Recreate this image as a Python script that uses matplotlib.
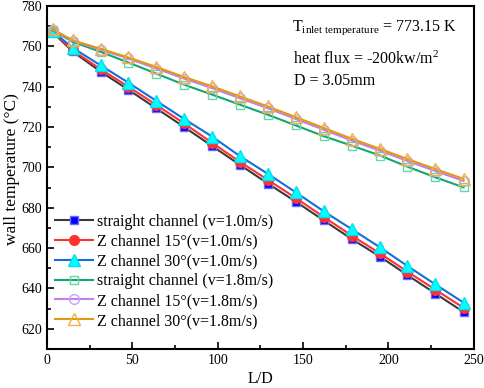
import matplotlib
matplotlib.use("Agg")
import matplotlib.pyplot as plt
from matplotlib.ticker import MultipleLocator

plt.rcParams['font.family'] = ['Liberation Serif', 'DejaVu Serif']
plt.rcParams['mathtext.fontset'] = 'custom'
plt.rcParams['mathtext.rm'] = 'Liberation Serif'
plt.rcParams['mathtext.it'] = 'Liberation Serif:italic'

x_ld = [3.3, 15, 31.4, 47.7, 64, 80.4, 96.7, 113, 129.4, 145.8, 162, 178.5, 195, 211, 227.5, 244]

straight_10 = [767, 757.5, 747.5, 738.5, 729.3, 720, 710.6, 701.3, 692, 683, 673.8, 664.5, 655.8, 646.7, 637.5, 628.3]
z15_10 = [767.3, 758, 748.7, 740, 731, 721.8, 712.2, 702.8, 693.8, 684.8, 675.5, 666.2, 657.4, 648.4, 639.4, 630.4]
z30_10 = [767.5, 759.3, 750.6, 742, 733, 724, 715.3, 705.6, 696.8, 687.6, 678.3, 669.4, 660.4, 651.2, 642, 633]
straight_18 = [768, 762.3, 757.3, 752, 746.5, 741, 736.1, 731.1, 726.1, 720.8, 715.5, 710.8, 705.9, 700.4, 695.1, 690.1]
z15_18 = [768.3, 762.8, 758.3, 754, 749, 744, 739.3, 734.3, 729.3, 724, 718.7, 713.3, 708.3, 703.2, 698.2, 693.3]
z30_18 = [768.5, 763, 758.8, 754.5, 749.8, 744.8, 740.2, 735.2, 730.2, 724.9, 719.6, 714.2, 709.2, 704.2, 699.2, 694.3]

labels = ["straight channel (v=1.0m/s)", "Z channel 15°(v=1.0m/s)", "Z channel 30°(v=1.0m/s)",
          "straight channel (v=1.8m/s)", "Z channel 15°(v=1.8m/s)", "Z channel 30°(v=1.8m/s)"]

fig = plt.figure(figsize=(4.84, 3.88), dpi=100)
ax = fig.add_axes([0.097, 0.1005, 0.882, 0.884])

series = [
    (straight_10, dict(color='#3a3a3a', marker='s', mfc='#0000ff', mec='#6a6aff', ms=6.3)),
    (z15_10, dict(color='#ff3030', marker='o', mfc='#ff3030', mec='#ff3030', ms=7)),
    (z30_10, dict(color='#1070e0', marker='^', mfc='#00ffff', mec='#00e0f0', ms=8)),
    (straight_18, dict(color='#10a870', marker='s', mfc='none', mec='#60d8a8', ms=6.3)),
    (z15_18, dict(color='#c080f0', marker='o', mfc='none', mec='#c8a0f8', ms=7)),
    (z30_18, dict(color='#e09a10', marker='^', mfc='none', mec='#f0b040', ms=8)),
]
for (ys, st), lab in zip(series, labels):
    ax.plot(x_ld, ys, lw=1.5, mew=1.0, label=lab, **st)

ax.set_xlim(0, 250)
ax.set_ylim(610, 780)
ax.xaxis.set_major_locator(MultipleLocator(50))
ax.xaxis.set_minor_locator(MultipleLocator(25))
ax.yaxis.set_major_locator(MultipleLocator(20))
ax.yaxis.set_minor_locator(MultipleLocator(10))
ax.tick_params(which='both', direction='in', labelsize=10, width=1.2)
ax.tick_params(which='major', length=5)
ax.tick_params(which='minor', length=3)
for s in ax.spines.values():
    s.set_linewidth(1.5)

ax.set_xlabel('L/D', fontsize=11.5, labelpad=3)
ax.set_ylabel('wall temperature (°C)', fontsize=12.5)
ax.yaxis.set_label_coords(-0.064, 0.526)

ax.text(0.574, 0.937, r'T$_{\mathregular{inlet\ temperature}}$ = 773.15 K', transform=ax.transAxes,
        fontsize=11.5, va='center')
ax.text(0.576, 0.845, r'heat flux = -200kw/m$^{\mathregular{2}}$', transform=ax.transAxes,
        fontsize=11.5, va='center')
ax.text(0.578, 0.7825, 'D = 3.05mm', transform=ax.transAxes, fontsize=11.5, va='center')

ax.legend(loc='lower left', bbox_to_anchor=(-0.007, 0.026), frameon=False, fontsize=11.5,
          handlelength=2.4, labelspacing=0.24, handletextpad=0.25, borderaxespad=0.3)

fig.savefig('out.png', dpi=100)
